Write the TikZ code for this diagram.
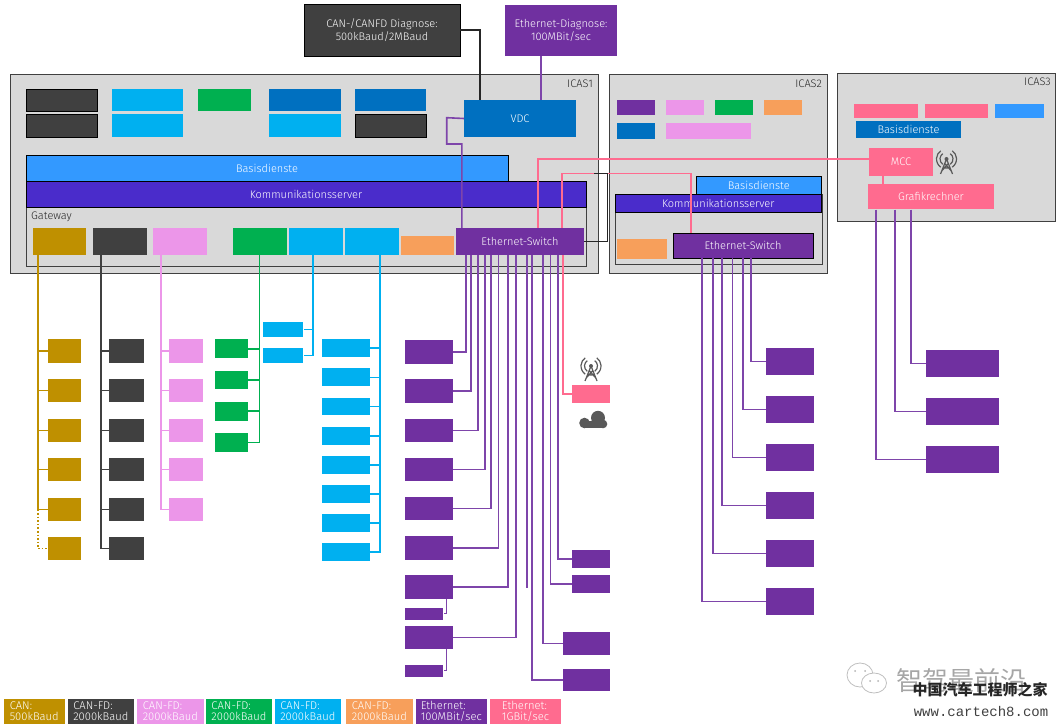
\documentclass[tikz,border=0pt]{standalone}
\usepackage{fontspec}
\setmainfont{Fira Sans}[UprightFont=* Light]
\newfontfamily\cjkfont{Noto Sans CJK SC}
\newfontfamily\urlfont{Liberation Mono}
\usetikzlibrary{calc}
\definecolor{goldc}{HTML}{BF9000}
\definecolor{darkc}{HTML}{404040}
\definecolor{pinkc}{HTML}{EC96E9}
\definecolor{greenc}{HTML}{00B050}
\definecolor{cyanc}{HTML}{00B0F0}
\definecolor{orangec}{HTML}{F79F5B}
\definecolor{purplec}{HTML}{7030A0}
\definecolor{rosec}{HTML}{FF6B8F}
\definecolor{bluec}{HTML}{0070C0}
\definecolor{skyc}{HTML}{3399FF}
\definecolor{indigoc}{HTML}{4A2CCB}
\definecolor{grayc}{HTML}{D9D9D9}
\definecolor{iconc}{HTML}{595959}
\tikzset{ box_style/.style = { rectangle % every block
        , inner sep = 0pt
        , text = white
        , align = center
        , font = \fontsize{11}{13}\selectfont
        }
        , gold_box/.style = { box_style, fill = goldc }
        , dark_box/.style = { box_style, fill = darkc, draw = black, line width = 0.7pt }
        , flat_dark_box/.style = { box_style, fill = darkc }
        , pink_box/.style = { box_style, fill = pinkc }
        , green_box/.style = { box_style, fill = greenc }
        , cyan_box/.style = { box_style, fill = cyanc }
        , orange_box/.style = { box_style, fill = orangec }
        , purple_box/.style = { box_style, fill = purplec }
        , rose_box/.style = { box_style, fill = rosec }
        , blue_box/.style = { box_style, fill = bluec }
        , sky_box/.style = { box_style, fill = skyc }
        , lined_box/.style = { draw = black, line width = 0.8pt }
        , icas_box/.style = { box_style, fill = grayc, draw = darkc, line width = 0.8pt }
        , legend_box/.style = { box_style, align = left, font = \fontsize{11.2}{11}\selectfont }
        , text_note/.style = { inner sep = 0pt, text = black!85, font = \fontsize{11}{13}\selectfont }
        , edge_style/.style = { line width = 1.6pt }
        , gold_edge/.style = { edge_style, draw = goldc }
        , dark_edge/.style = { edge_style, draw = darkc }
        , pink_edge/.style = { edge_style, draw = pinkc }
        , green_edge/.style = { edge_style, draw = greenc }
        , cyan_edge/.style = { edge_style, draw = cyanc }
        , purple_edge/.style = { edge_style, draw = purplec!90 }
        , rose_edge/.style = { edge_style, draw = rosec }
        , black_edge/.style = { edge_style, draw = black!85 }
        , antenna_icon/.pic = {
            \draw[iconc, line width=1.2pt] (-6,11) -- (0,-4) -- (6,11) (-3.6,5) -- (3.6,5) (-4.8,8) -- (1.8,0.5) (4.8,8) -- (-1.8,0.5);
            \fill[iconc] (0,-4) circle (2pt);
            \draw[iconc, line width=1.2pt] (0,-4) ++(125:6.5) arc[start angle=125, end angle=235, radius=6.5];
            \draw[iconc, line width=1.2pt] (0,-4) ++(55:6.5) arc[start angle=55, end angle=-55, radius=6.5];
            \draw[iconc, line width=1.2pt] (0,-4) ++(125:10) arc[start angle=125, end angle=235, radius=10];
            \draw[iconc, line width=1.2pt] (0,-4) ++(55:10) arc[start angle=55, end angle=-55, radius=10];
          }
        }
% corners in reference pixels: style, name, x1, y1, x2, y2, text
\newcommand{\bx}[7]{\node[#1, minimum width={(#5-#3)*1pt}, minimum height={(#6-#4)*1pt}] (#2) at ({(#3+#5)/2},{(#4+#6)/2}) {#7};}
\begin{document}
\begin{tikzpicture}[x=1pt,y=-1pt]
        \useasboundingbox (0,0) rectangle (1059,727);

        % diagnosis
        \bx{dark_box}{can_diag}{304}{4.5}{460}{56}{CAN-/CANFD Diagnose:\\500kBaud/2MBaud}
        \bx{purple_box}{eth_diag}{505}{5}{617}{56}{Ethernet-Diagnose:\\100MBit/sec}

        % ICAS1
        \bx{icas_box}{icas1}{10.5}{74.5}{598.5}{273}{}
        \node[text_note, anchor=north east] (icas1_name) at (593,80) {ICAS1};
        \bx{dark_box}{a1}{26}{89}{97}{111}{}
        \bx{dark_box}{a2}{26}{114}{97}{137}{}
        \bx{cyan_box}{a3}{112}{89}{183}{111}{}
        \bx{cyan_box}{a4}{112}{114}{183}{137}{}
        \bx{green_box}{a5}{198}{89}{251}{111}{}
        \bx{blue_box}{a6}{269}{89}{341}{111}{}
        \bx{cyan_box}{a7}{269}{114}{341}{137}{}
        \bx{blue_box}{a8}{355}{89}{426}{111}{}
        \bx{dark_box}{a9}{355}{114}{426}{137}{}
        \bx{blue_box}{vdc}{464}{100}{576}{137}{VDC}
        \bx{sky_box, lined_box}{basis1}{26}{155}{508}{181}{Basisdienste}
        \node[box_style, draw=darkc, line width=0.8pt, minimum width=560pt, minimum height=59pt] (gateway) at (306,236.5) {};
        \bx{box_style, fill=indigoc, lined_box}{komm1}{26}{181}{586}{207}{Kommunikationsserver}
        \node[text_note, anchor=north west] (gateway_name) at (31,212) {Gateway};
        \bx{gold_box}{gw1}{33}{228}{86}{255}{}
        \bx{flat_dark_box}{gw2}{93}{228}{147}{255}{}
        \bx{pink_box}{gw3}{153}{228}{207}{255}{}
        \bx{green_box}{gw4}{233}{228}{287}{255}{}
        \bx{cyan_box}{gw5}{289}{228}{343}{255}{}
        \bx{cyan_box}{gw6}{345}{228}{399}{255}{}
        \bx{orange_box}{gw7}{401}{236}{454}{255}{}
        \bx{purple_box}{switch1}{456}{228}{584}{255}{Ethernet-Switch}

        % ICAS2
        \bx{icas_box}{icas2}{609.5}{74.5}{827.5}{273}{}
        \node[text_note, anchor=north east] (icas2_name) at (822,80) {ICAS2};
        \bx{purple_box}{b1}{617}{100}{655}{115}{}
        \bx{pink_box}{b2}{666}{100}{704}{115}{}
        \bx{green_box}{b3}{715}{100}{753}{115}{}
        \bx{orange_box}{b4}{764}{100}{802}{115}{}
        \bx{blue_box}{b5}{617}{123}{655}{139}{}
        \bx{pink_box}{b6}{666}{123}{751}{139}{}
        \node[box_style, draw=darkc, line width=0.8pt, minimum width=207pt, minimum height=70pt] (gateway2) at (718.5,229) {};
        \bx{sky_box, lined_box}{basis2}{696}{176}{821.5}{194}{Basisdienste}
        \bx{box_style, fill=indigoc, lined_box}{komm2}{615}{194}{821.5}{212.5}{Kommunikationsserver}
        \bx{orange_box}{b7}{617}{239}{667}{259}{}
        \bx{purple_box, lined_box}{switch2}{673}{233}{813}{258}{Ethernet-Switch}

        % ICAS3
        \bx{icas_box}{icas3}{837.5}{73}{1055.5}{221}{}
        \node[text_note, anchor=north east] (icas3_name) at (1051,78) {ICAS3};
        \bx{rose_box}{c1}{854}{104}{918}{118.5}{}
        \bx{rose_box}{c2}{925}{104}{988}{118.5}{}
        \bx{sky_box}{c3}{995}{104}{1044}{118.5}{}
        \bx{blue_box}{basis3}{856}{121}{961}{138}{Basisdienste}
        \bx{rose_box}{mcc}{869}{148}{933}{176}{MCC}
        \bx{rose_box}{grafik}{868}{184}{994}{209.5}{Grafikrechner}
        \pic at (946.5,163) {antenna_icon};

        % CAN field devices
        \bx{gold_box}{can1}{47.7}{339.3}{81}{363}{}
        \bx{gold_box}{can2}{47.7}{379}{81}{402.3}{}
        \bx{gold_box}{can3}{47.7}{418.7}{81}{442}{}
        \bx{gold_box}{can4}{47.7}{458}{81}{481.3}{}
        \bx{gold_box}{can5}{47.7}{497.7}{81}{521}{}
        \bx{gold_box}{can6}{47.7}{537}{81}{560.3}{}
        \bx{flat_dark_box}{fda1}{109.3}{339.3}{143.7}{363}{}
        \bx{flat_dark_box}{fda2}{109.3}{379}{143.7}{402.3}{}
        \bx{flat_dark_box}{fda3}{109.3}{418.7}{143.7}{442}{}
        \bx{flat_dark_box}{fda4}{109.3}{458}{143.7}{481.3}{}
        \bx{flat_dark_box}{fda5}{109.3}{497.7}{143.7}{521}{}
        \bx{flat_dark_box}{fda6}{109.3}{537}{143.7}{560.3}{}
        \bx{pink_box}{fdb1}{169.3}{339.3}{203.3}{363}{}
        \bx{pink_box}{fdb2}{169.3}{379}{203.3}{402.3}{}
        \bx{pink_box}{fdb3}{169.3}{418.7}{203.3}{442}{}
        \bx{pink_box}{fdb4}{169.3}{458}{203.3}{481.3}{}
        \bx{pink_box}{fdb5}{169.3}{497.7}{203.3}{521}{}
        \bx{green_box}{fdc1}{214.7}{339.3}{247.7}{358.3}{}
        \bx{green_box}{fdc2}{214.7}{370.7}{247.7}{389.3}{}
        \bx{green_box}{fdc3}{214.7}{401.7}{247.7}{420.7}{}
        \bx{green_box}{fdc4}{214.7}{433}{247.7}{451.7}{}
        \bx{cyan_box}{fdd1}{263.3}{322}{303.3}{337}{}
        \bx{cyan_box}{fdd2}{263.3}{348}{303.3}{363}{}
        \bx{cyan_box}{fde1}{322}{339.3}{370}{357}{}
        \bx{cyan_box}{fde2}{322}{368.3}{370}{386.3}{}
        \bx{cyan_box}{fde3}{322}{397.7}{370}{415.3}{}
        \bx{cyan_box}{fde4}{322}{426.7}{370}{444.7}{}
        \bx{cyan_box}{fde5}{322}{456}{370}{473.7}{}
        \bx{cyan_box}{fde6}{322}{485}{370}{502.7}{}
        \bx{cyan_box}{fde7}{322}{514}{370}{532}{}
        \bx{cyan_box}{fde8}{322}{543.3}{370}{561}{}

        % ethernet field devices
        \bx{purple_box}{e1}{405.3}{340}{453}{363.7}{}
        \bx{purple_box}{e2}{405.3}{379.3}{453}{402.7}{}
        \bx{purple_box}{e3}{405.3}{418.7}{453}{442.3}{}
        \bx{purple_box}{e4}{405.3}{457.7}{453}{481}{}
        \bx{purple_box}{e5}{405.3}{497}{453}{520}{}
        \bx{purple_box}{e6}{405.3}{536.3}{453}{559.7}{}
        \bx{purple_box}{e7}{405.3}{575.3}{453}{598.7}{}
        \bx{purple_box}{e7a}{405.3}{607.7}{443.3}{619.7}{}
        \bx{purple_box}{e8}{405.3}{626}{453}{648.7}{}
        \bx{purple_box}{e8a}{405.3}{664.7}{443.3}{676.7}{}
        \bx{rose_box}{f1}{571.7}{385}{610.3}{402.7}{}
        \bx{purple_box}{f2}{571.7}{550}{610.3}{568}{}
        \bx{purple_box}{f3}{571.7}{575.3}{610.3}{593}{}
        \bx{purple_box}{f4}{562.7}{632}{610.3}{654.7}{}
        \bx{purple_box}{f5}{562.7}{668.7}{610.3}{691.3}{}
        \pic at (591,370) {antenna_icon};
        \fill[iconc] (584.5,423) circle (5.3pt);
        \fill[iconc] (598,417.8) circle (7pt);
        \fill[iconc] (603,424) circle (4.3pt);
        \fill[iconc] (584.5,421) rectangle (603,428.3);

        \bx{purple_box}{g1}{766}{348}{814}{375}{}
        \bx{purple_box}{g2}{766}{396}{814}{423}{}
        \bx{purple_box}{g3}{766}{444}{814}{471}{}
        \bx{purple_box}{g4}{766}{492}{814}{519}{}
        \bx{purple_box}{g5}{766}{540}{814}{567}{}
        \bx{purple_box}{g6}{766}{588}{814}{615}{}
        \bx{purple_box}{h1}{926}{350}{999}{377}{}
        \bx{purple_box}{h2}{926}{398}{999}{425}{}
        \bx{purple_box}{h3}{926}{446}{999}{473}{}

        % connectors at the top
        \draw[black_edge] (can_diag.east) -| (vdc.north -| 479.8,0);
        \draw[purple_edge] (eth_diag.south -| 541,0) -- (vdc.north -| 541,0);
        \draw[purple_edge] (vdc.west) -- (446.7,117.7) |- (461.9,144) -- (switch1.north -| 461.9,0);
        \draw[rose_edge] (mcc.west |- 0,159) -| (switch1.north -| 538,0);
        \draw[rose_edge] (switch1.north -| 562,0) |- (690.7,173.5) -- (switch2.north -| 690.7,0);
        \coordinate (back_end) at (594,173.5);
        \draw[black_edge] (switch1.east |- 0,241.7) -| (607.5,173.5) -- (back_end);
        \draw[rose_edge] (mcc.south -| 883,0) -- (grafik.north -| 883,0);

        % gateway branches
        \draw[gold_edge] (gw1.south -| 37.7,0) |- (can1.west);
        \draw[gold_edge] (gw1.south -| 37.7,0) |- (can2.west);
        \draw[gold_edge] (gw1.south -| 37.7,0) |- (can3.west);
        \draw[gold_edge] (gw1.south -| 37.7,0) |- (can4.west);
        \draw[gold_edge] (gw1.south -| 37.7,0) |- (can5.west);
        \draw[gold_edge, dotted] (can5.west -| 37.7,0) |- (can6.west);
        \draw[dark_edge] (gw2.south -| 100.7,0) |- (fda1.west);
        \draw[dark_edge] (gw2.south -| 100.7,0) |- (fda2.west);
        \draw[dark_edge] (gw2.south -| 100.7,0) |- (fda3.west);
        \draw[dark_edge] (gw2.south -| 100.7,0) |- (fda4.west);
        \draw[dark_edge] (gw2.south -| 100.7,0) |- (fda5.west);
        \draw[dark_edge] (gw2.south -| 100.7,0) |- (fda6.west);
        \draw[pink_edge] (gw3.south -| 160.7,0) |- (fdb1.west);
        \draw[pink_edge] (gw3.south -| 160.7,0) |- (fdb2.west);
        \draw[pink_edge] (gw3.south -| 160.7,0) |- (fdb3.west);
        \draw[pink_edge] (gw3.south -| 160.7,0) |- (fdb4.west);
        \draw[pink_edge] (gw3.south -| 160.7,0) |- (fdb5.west);
        \draw[green_edge] (gw4.south -| 259.3,0) |- (fdc1.east);
        \draw[green_edge] (gw4.south -| 259.3,0) |- (fdc2.east);
        \draw[green_edge] (gw4.south -| 259.3,0) |- (fdc3.east);
        \draw[green_edge] (gw4.south -| 259.3,0) |- (fdc4.east);
        \draw[cyan_edge] (gw5.south -| 312.7,0) |- (fdd1.east);
        \draw[cyan_edge] (gw5.south -| 312.7,0) |- (fdd2.east);
        \draw[cyan_edge] (gw6.south -| 379.7,0) |- (fde1.east);
        \draw[cyan_edge] (gw6.south -| 379.7,0) |- (fde2.east);
        \draw[cyan_edge] (gw6.south -| 379.7,0) |- (fde3.east);
        \draw[cyan_edge] (gw6.south -| 379.7,0) |- (fde4.east);
        \draw[cyan_edge] (gw6.south -| 379.7,0) |- (fde5.east);
        \draw[cyan_edge] (gw6.south -| 379.7,0) |- (fde6.east);
        \draw[cyan_edge] (gw6.south -| 379.7,0) |- (fde7.east);
        \draw[cyan_edge] (gw6.south -| 379.7,0) |- (fde8.east);

        % switch branches
        \draw[purple_edge] (switch1.south -| 465.7,0) |- (e1.east);
        \draw[purple_edge] (switch1.south -| 471,0) |- (e2.east);
        \draw[purple_edge] (switch1.south -| 478,0) |- (e3.east);
        \draw[purple_edge] (switch1.south -| 485,0) |- (e4.east);
        \draw[purple_edge] (switch1.south -| 491,0) |- (e5.east);
        \draw[purple_edge] (switch1.south -| 498.3,0) |- (e6.east);
        \draw[purple_edge] (switch1.south -| 507.7,0) |- (e7.east);
        \draw[purple_edge] (switch1.south -| 516,0) |- (e8.east);
        \coordinate (open_end) at (526.7,588);
        \draw[purple_edge] (switch1.south -| 526.7,0) -- (open_end);
        \draw[purple_edge] (switch1.south -| 532,0) |- (f5.west);
        \draw[purple_edge] (switch1.south -| 543,0) |- (f4.west);
        \draw[purple_edge] (switch1.south -| 550.3,0) |- (f3.west);
        \draw[purple_edge] (switch1.south -| 558,0) |- (f2.west);
        \draw[rose_edge] (switch1.south -| 563,0) |- (f1.west);
        \draw[purple_edge, line width=1pt] (e7.south -| 446.7,0) |- (e7a.east);
        \draw[purple_edge, line width=1pt] (e8.south -| 446.7,0) |- (e8a.east);
        \draw[purple_edge] (switch2.south -| 701.7,0) |- (g6.west);
        \draw[purple_edge] (switch2.south -| 713,0) |- (g5.west);
        \draw[purple_edge] (switch2.south -| 722,0) |- (g4.west);
        \draw[purple_edge] (switch2.south -| 732.3,0) |- (g3.west);
        \draw[purple_edge] (switch2.south -| 743,0) |- (g2.west);
        \draw[purple_edge] (switch2.south -| 751,0) |- (g1.west);
        \draw[purple_edge] (grafik.south -| 875.7,0) |- (h3.west);
        \draw[purple_edge] (grafik.south -| 895,0) |- (h2.west);
        \draw[purple_edge] (grafik.south -| 911,0) |- (h1.west);

        % legend
        \bx{legend_box, fill=goldc}{l1}{3.5}{698.5}{65}{724}{CAN:\\500kBaud}
        \bx{legend_box, fill=darkc}{l2}{67.7}{698.5}{134}{724}{CAN-FD:\\2000kBaud}
        \bx{legend_box, fill=pinkc}{l3}{137}{698.5}{203.7}{724}{CAN-FD:\\2000kBaud}
        \bx{legend_box, fill=greenc}{l4}{206}{698.5}{272}{724}{CAN-FD:\\2000kBaud}
        \bx{legend_box, fill=cyanc}{l5}{274.6}{698.5}{341}{724}{CAN-FD:\\2000kBaud}
        \bx{legend_box, fill=orangec}{l6}{346}{698.5}{412.6}{724}{CAN-FD:\\2000kBaud}
        \bx{legend_box, fill=purplec}{l7}{415.6}{698.5}{487}{724}{Ethernet:\\100MBit/sec}
        \bx{legend_box, fill=rosec}{l8}{490}{698.5}{561}{724}{Ethernet:\\1GBit/sec}

        % watermark
        \draw[black!25, line width=0.8pt] (860,675) ellipse (13pt and 12pt);
        \draw[black!25, line width=0.8pt, fill=white] (874,683) ellipse (12.5pt and 10pt);
        \fill[black!30] (855,671) circle (1pt) (865,671) circle (1pt) (870,681) circle (1pt) (878,681) circle (1pt);
        \node[inner sep=0pt, text=black!35, font=\cjkfont\fontsize{26}{26}\selectfont] (mark1) at (961,681) {智驾最前沿};
        \node[inner sep=0pt, text=black!85, font=\cjkfont\bfseries\fontsize{15}{15}\selectfont] (mark2) at (980,690) {中国汽车工程师之家};
        \node[inner sep=0pt, text=black!75, font=\urlfont\fontsize{14}{14}\selectfont] (mark3) at (981,711) {www.cartech8.com};
\end{tikzpicture}
\end{document}
